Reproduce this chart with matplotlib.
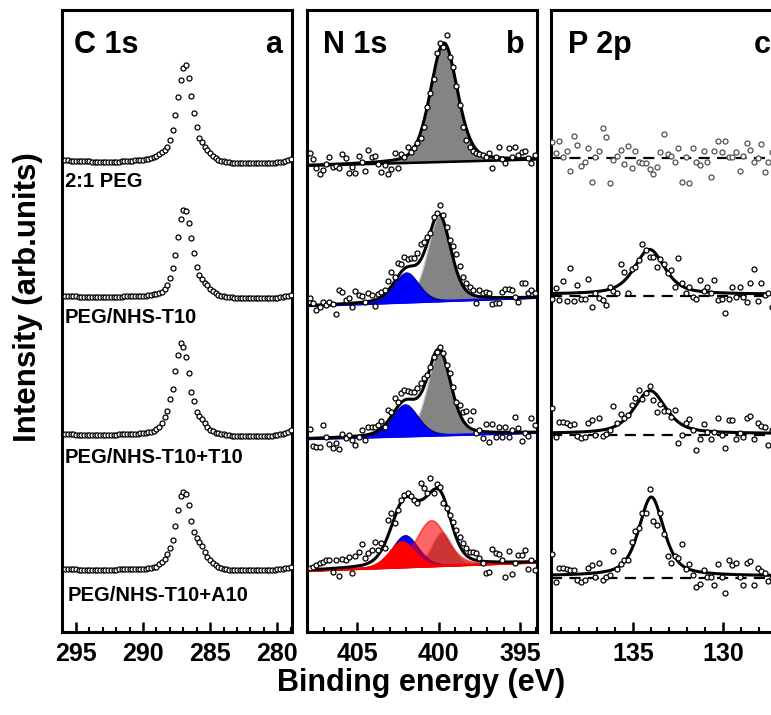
import numpy as np
import matplotlib
matplotlib.use("Agg")
import matplotlib.pyplot as plt
from matplotlib.ticker import MultipleLocator

plt.rcParams["font.family"] = ["Liberation Sans", "DejaVu Sans"]
plt.rcParams["font.weight"] = "bold"

# ---------------- data ----------------
sample_names = ["2:1 PEG", "PEG/NHS-T10", "PEG/NHS-T10+T10", "PEG/NHS-T10+A10"]

# C 1s : scan 295.8 -> 279.0 eV, step 0.2 eV
c1s_start, c1s_step, c1s_n = 295.8, 0.2, 85
c1s_offsets = [471.3, 336.0, 198.0, 63.0]
c1s_1 = [0.5, 0.3, 0.0, 0.0, -0.3, -0.3, -0.5, -0.5, -0.7, -0.7, -1.0, -1.0, -1.0, -1.2, -1.2,
         -1.0, -1.0, -1.2, -1.0, -0.8, -0.8, -0.6, -0.5, -0.3, 0.0, 0.2, 0.5, 0.7, 1.0, 1.2,
         1.3, 2.0, 2.7, 3.7, 4.7, 6.3, 8.3, 10.7, 14.0, 20.7, 30.7, 45.7, 63.3, 80.7, 93.0,
         95.7, 83.0, 65.0, 47.3, 33.3, 22.3, 18.3, 14.0, 10.7, 7.3, 4.7, 2.3, 0.7, 0.0,
         -0.5, -1.0, -1.5, -2.0, -2.3, -2.5, -2.7, -2.7, -2.7, -2.5, -2.7, -2.7, -2.5,
         -2.5, -2.7, -2.5, -2.3, -2.3, -2.0, -2.0, -1.7, -1.3, -1.0, -0.5, 0.3, 1.3]
c1s_2 = [0.3, 0.3, 0.0, -0.3, -0.3, -0.5, -0.7, -0.7, -1.0, -0.8, -1.0, -1.2, -1.0, -1.0, -1.2,
         -1.0, -0.8, -1.0, -0.8, -0.7, -0.5, -0.5, -0.3, 0.0, 0.0, 0.2, 0.3, 0.3, 0.5, 0.5,
         0.5, 0.8, 1.2, 1.7, 2.3, 3.0, 4.5, 7.5, 11.0, 17.7, 27.7, 41.0, 59.3, 76.7, 86.0,
         85.0, 73.3, 57.7, 42.7, 29.3, 21.0, 16.7, 13.3, 10.7, 7.3, 4.7, 2.7, 1.3, 0.3,
         0.0, -0.5, -1.0, -1.3, -1.7, -2.0, -2.0, -2.3, -2.3, -2.0, -2.3, -2.3, -2.0,
         -2.3, -2.3, -2.0, -2.0, -2.3, -2.0, -1.7, -1.7, -1.3, -0.7, -0.3, 0.3, 1.0]
c1s_3 = [0.0, 0.0, -0.3, -0.3, -0.5, -0.5, -0.7, -0.7, -1.0, -1.0, -1.0, -1.3, -1.0, -1.3, -1.0,
         -1.0, -1.0, -0.8, -0.7, -0.5, -0.3, -0.3, 0.0, 0.0, 0.3, 0.3, 0.5, 0.5, 0.7, 0.8,
         1.0, 1.7, 2.3, 3.3, 4.7, 7.3, 11.3, 16.7, 23.0, 34.7, 44.7, 63.3, 79.0, 90.7, 87.3,
         77.3, 60.7, 42.3, 33.0, 22.3, 18.0, 14.7, 10.7, 7.3, 4.0, 2.7, 1.3, 0.7, 0.3,
         0.0, -0.5, -1.0, -1.5, -1.7, -2.0, -2.0, -2.3, -2.3, -2.3, -2.0, -2.3, -2.3,
         -2.0, -2.3, -2.0, -2.0, -1.7, -1.7, -1.3, -1.0, -0.3, 0.3, 1.3, 2.5, 4.0]
c1s_4 = [0.0, 0.0, -0.3, -0.3, -0.3, -0.5, -0.5, -0.7, -0.7, -0.7, -1.0, -1.0, -0.8, -1.0, -1.0,
         -0.8, -0.8, -0.7, -0.5, -0.5, -0.3, -0.2, 0.0, 0.0, 0.2, 0.2, 0.3, 0.3, 0.3, 0.5,
         0.5, 0.8, 1.2, 1.7, 2.3, 4.7, 7.3, 10.3, 15.0, 20.7, 29.0, 43.0, 59.0, 73.0, 76.7,
         74.7, 64.0, 48.3, 36.7, 30.7, 27.3, 23.0, 17.3, 12.3, 9.0, 5.7, 3.7, 1.7, 0.7,
         0.3, -0.3, -0.7, -1.0, -1.0, -1.3, -1.3, -1.3, -1.0, -1.3, -1.3, -1.0, -1.3,
         -1.3, -1.0, -1.0, -1.0, -1.0, -0.7, -0.7, -0.3, 0.0, 0.3, 0.7, 1.0, 1.7]

# N 1s : scan 407.9 -> 394.1 eV, step 0.2 eV
n1s_start, n1s_step, n1s_n = 407.9, 0.2, 70
n1s_offsets = [466.3, 326.0, 193.0, 61.3]
n1s_bg_ends = [(0.0, 6.3), (0.0, 8.3), (0.0, 6.3), (0.0, 8.3)]
n1s_1 = [13, 6.3, -2.7, -8.3, -4.3, 1.7, 9, -1, 0, -2, 11.3, 7.3, -7.7, -1, -7.7, 9.7, 3.3, -5,
         15.7, 9, 10, 1.7, -6.7, 0.7, -8.3, -3.3, 12.3, -2.7, 11.7, 9, 19, 14, 17.3, 22.3,
         27.3, 39, 58.3, 72.3, 86.7, 112.3, 122.3, 119, 130.7, 109, 99, 79.7, 60.7, 39, 25.7,
         19, 15, 12.3, 11.7, 10.7, 9, 12.3, -2.7, 8.3, 19, 6.3, 2.3, 18, 9, 19, 10.7, 14, 15,
         7.3, 2.3, 10.7]
n1s_2 = [7.7, 2.7, -4, -0.7, 3.7, 1, 3.7, 2, -8, 16, 14.3, 6, 8.3, -1.3, 15.3, 11, 10, 4.3,
         12.7, 10.7, 0, 12, 14.3, 16, 25.3, 34.3, 29.3, 43.3, 42, 49.3, 46.7, 47.7, 47.7, 52.7,
         62, 64.3, 68.7, 72.7, 89.3, 92.7, 101, 91, 79.3, 66, 60, 52, 40, 29.3, 22.7, 19.3,
         16, 2.7, 16, 13.3, 14.3, 12.7, 2, 3.3, 2.7, 14.3, 16.7, 16.7, 16, 9.3, 4.3, 22.7,
         22.7, 12.7, 16, 12.7]
n1s_3 = [9.7, -7, -8.3, -7.7, 14, 2.3, -5, -9.3, -4.3, -10.3, 5, 0.7, 4, -1, -6, 2.3, 9, -1,
         12.3, 12.3, 12.3, 14, 18.3, 12.3, 29, 27.3, 40.7, 37.3, 45.7, 49, 48, 47.3, 46.7,
         50.7, 56.3, 60.7, 64, 71.7, 82.3, 87.3, 92.3, 85.7, 74, 65.7, 52.3, 37.3, 34, 27.3,
         28, 19, 28.3, 5.7, 9, 0.7, 14.7, -2.7, 14.7, 1.7, 12.3, 1.7, 12.3, 1.7, 9, 22.3,
         10.7, -2, 5.7, 3, 20.7, 14]
n1s_4 = [2.3, 4, 5.7, 7.3, 9, 10.7, 10.7, -1, 10.7, -5, 11.3, 10.7, 14, -2.7, 14.7, 19, 26.3,
         13, 18, 20.7, 28.3, 20.7, 27.3, 22.3, 50.7, 57.3, 48, 60.7, 70.7, 75.7, 77.3, 75,
         70.7, 68, 87.3, 82.3, 77.3, 92.3, 77.3, 86.7, 84, 67.3, 62.3, 55.7, 49, 40.7, 34,
         27.3, 22.3, 19, 19, 18, 12.3, 7.3, -2, -1, 21.3, 18, 16.7, 10.7, -6, 20, -3.7, 7.3,
         15.7, 15.7, 20.7, 1.3, 10.7, 0.7]
# fitted components: (kind, centre eV, height, FWHM eV)
n1s_peaks = [
    [("gray", 399.67, 119, 1.95)],
    [("gray", 399.97, 85, 1.7), ("blue", 401.98, 30, 1.8)],
    [("gray", 399.97, 84, 1.7), ("blue", 402.06, 32, 1.9)],
    [("gray", 399.80, 34, 1.5), ("blue", 402.06, 32, 1.9), ("red", 402.26, 26, 1.9),
     ("red_t", 400.45, 46, 2.2)],
]
n1s_bg_colors = ["black", "blue", "blue", "red"]

# P 2p : scan 139.5 -> 126.9 eV, step 0.2 eV
p2p_start, p2p_step, p2p_n = 139.5, 0.2, 64
p2p_offsets = [473.7, 336.3, 197.0, 54.3]
p2p_1 = [16.7, 5.7, 17.7, 1.7, 7.7, -13, 22.3, 13.3, -7.7, -3.3, 10, -23.7, 1.7, 7.7, 30, 21.7,
         -24.3, -1.7, 2.3, 8.3, -5.7, 12.3, -9.3, 7.3, -3.3, -5, -5, -11, -15.7, -8.3, 6.7,
         24.3, 4, 2.3, -3.3, 10, -23.7, 1.7, -24.3, 10.7, -3.3, -6.7, 7, -3.7, -18.3, 7.3,
         17.7, 6.7, 17.3, 1.7, 1.7, 6.7, -13, 2.3, 15, 8.3, -3.3, 0, 14, -13.3, -3.3, 6.7,
         10, -5]
p2p_2 = [-3.7, 7.3, -4.3, 15, -5.3, 28, -5.3, 10.3, -3.7, -3, 16.3, -11.7, 3, -2.7, -4.3,
         -9.7, 9, 4.7, 3, 31.7, 24, 3, 26.7, 28.3, 35.7, 51.7, 45.7, 38.3, 39, 29, 36.3, 31.7,
         22.3, 25.7, 9, 37.3, 12.3, 3, 8.3, -1, -3, 15.7, 4.7, 9, 2.3, 15.7, -4.3, -3, -17,
         -3, 8.3, -1, 8.3, -1, -6.7, 12.3, 26.3, -5, 12.3, 0.7, 2.3, -11, 0, 5]
p2p_3 = [26.7, -1.7, 13.3, 12.7, 11.7, 10.3, 10.7, -1, -2.7, -1.7, 11.7, 15, 0, 16.7, -1, 0.7,
         5, 29.3, 12.3, 21, 16.7, 20, 29.7, 37.3, 45, 35.7, 41.7, 49, 35, 23.3, 30.7, 24.3,
         24, 17.7, 25, -7.7, 0, 11.7, 16, 5, -15, -4.3, 10.7, 3.3, -4.3, 3.3, 16.7, 0, -13.3,
         15, 15, -4.3, 2.3, -1.7, 17.3, 19, -4.3, 12.3, 9, 7.7, -10, 5, 1.7, -1.7]
p2p_4 = [23.7, -4, 10, 9.3, 8.3, 7.7, 7.7, -2.3, -4.7, -2.3, 9.3, 12.7, 0.3, 15, -2.3, 0.3,
         2.7, 26.7, 9, 13.7, 17.7, 17.7, 35.3, 47, 50, 64.3, 64.3, 88.7, 56.7, 52.3, 65, 43.7,
         21.7, 15, 21.7, 19.3, 33.7, 8.3, 13.7, 2.7, -9, -6.7, 7.7, 0.3, 0.3, -7.3, 13.7, 0.3,
         -15.7, 17.7, 12.7, 14.3, 0.3, -7.3, 15, 16.7, -7.3, 9.3, 7, 4.3, -3, 0, 5, -3]
p2p_center = [None, 134.10, 134.07, 134.00]
p2p_height = [0, 45, 43, 79]
p2p_fwhm = [0, 2.0, 2.1, 1.65]
p2p_fit_base = [0, 1.3, 1.3, 1.7]


def pseudo_voigt(x, c, h, w, eta):
    g = np.exp(-4 * np.log(2) * ((x - c) / w) ** 2)
    l = 1 / (1 + 4 * ((x - c) / w) ** 2)
    return h * ((1 - eta) * g + eta * l)


# ---------------- figure ----------------
W, H = 771, 715
fig = plt.figure(figsize=(W / 100, H / 100), dpi=100)


def add_panel(left_px, xlim, major):
    ax = fig.add_axes([left_px / W, 83 / H, 230 / W, 622 / H])
    ax.set_xlim(*xlim)
    ax.set_ylim(0, 622)
    ax.set_yticks([])
    ax.xaxis.set_major_locator(MultipleLocator(major))
    ax.xaxis.set_minor_locator(MultipleLocator(1))
    ax.tick_params(axis="x", which="major", direction="in", length=7, width=1.8,
                   labelsize=18, pad=7)
    ax.tick_params(axis="x", which="minor", direction="in", length=3.5, width=1.5)
    for s in ax.spines.values():
        s.set_linewidth(2.2)
    return ax


ax_a = add_panel(62, (296.04, 278.9), 5)
ax_b = add_panel(307, (408.07, 393.96), 5)
ax_c = add_panel(551, (139.57, 126.8), 5)

mk = dict(ls="none", marker="o", mfc="white", ms=3.6, mew=0.9, zorder=6)

# panel a
c1s_energy = np.round(c1s_start - c1s_step * np.arange(c1s_n), 1)
for off, vals in zip(c1s_offsets, [c1s_1, c1s_2, c1s_3, c1s_4]):
    ax_a.plot(c1s_energy, off + np.array(vals), mec="black", **mk)

label_pos = [(0.013, 0.7235), (0.013, 0.505), (0.013, 0.28), (0.026, 0.058)]
for (lx, ly), name in zip(label_pos, sample_names):
    ax_a.text(lx, ly, name, transform=ax_a.transAxes, fontsize=14.5, va="center")

# panel b
styles = {
    "gray": dict(facecolor="#848484", edgecolor="#c8c8c8", linewidth=1.0),
    "blue": dict(facecolor="#0000ff", edgecolor="#00008b", linewidth=0.8),
    "red": dict(facecolor="#ff0000", edgecolor="#ff0000", linewidth=0.8),
    "red_t": dict(facecolor="#ff0000", edgecolor="#ff0000", linewidth=1.2, alpha=0.6),
}
xf = np.linspace(408.07, 393.96, 800)
n1s_energy = np.round(n1s_start - n1s_step * np.arange(n1s_n), 1)
for i, vals in enumerate([n1s_1, n1s_2, n1s_3, n1s_4]):
    off = n1s_offsets[i]
    b0, b1 = n1s_bg_ends[i]
    bg = off + b0 + (b1 - b0) * (xf[0] - xf) / (xf[0] - xf[-1])
    total = bg.copy()
    for kind, c, h, w in n1s_peaks[i]:
        comp = pseudo_voigt(xf, c, h, w, 0.3)
        total += comp
        ax_b.fill_between(xf, bg, bg + comp, zorder=2, **styles[kind])
    ax_b.plot(xf, bg, color=n1s_bg_colors[i], lw=1.8, zorder=3)
    ax_b.plot(xf, total, color="black", lw=2.2, zorder=4)
    ax_b.plot(n1s_energy, off + np.array(vals), mec="black", **mk)

# panel c
xc = np.linspace(139.57, 126.8, 800)
p2p_energy = np.round(p2p_start - p2p_step * np.arange(p2p_n), 1)
for i, vals in enumerate([p2p_1, p2p_2, p2p_3, p2p_4]):
    off = p2p_offsets[i]
    ax_c.axhline(off, color="black", lw=1.6, ls=(0, (5, 3.3)), zorder=2)
    if p2p_center[i] is not None:
        fit = off + p2p_fit_base[i] + pseudo_voigt(xc, p2p_center[i], p2p_height[i],
                                                    p2p_fwhm[i], 0.6)
        ax_c.plot(xc, fit, color="black", lw=2.2, zorder=4)
    edge = "#505050" if i == 0 else "black"
    ax_c.plot(p2p_energy, off + np.array(vals), mec=edge, **mk)

# panel titles
for ax, title, letter, tx, lx in [(ax_a, "C 1s", "a", 0.052, 0.957),
                                  (ax_b, "N 1s", "b", 0.07, 0.948),
                                  (ax_c, "P 2p", "c", 0.074, 0.955)]:
    ax.text(tx, 0.931, title, transform=ax.transAxes, fontsize=22, va="baseline")
    ax.text(lx, 0.931, letter, transform=ax.transAxes, fontsize=22, va="baseline",
            ha="right")

fig.text(421 / W, 1 - 683 / H, "Binding energy (eV)", ha="center", va="center",
         fontsize=22)
fig.text(28 / W, 1 - 297 / H, "Intensity (arb.units)", rotation=90, ha="center",
         va="center", fontsize=22.5)

fig.savefig("out.png", dpi=100)
